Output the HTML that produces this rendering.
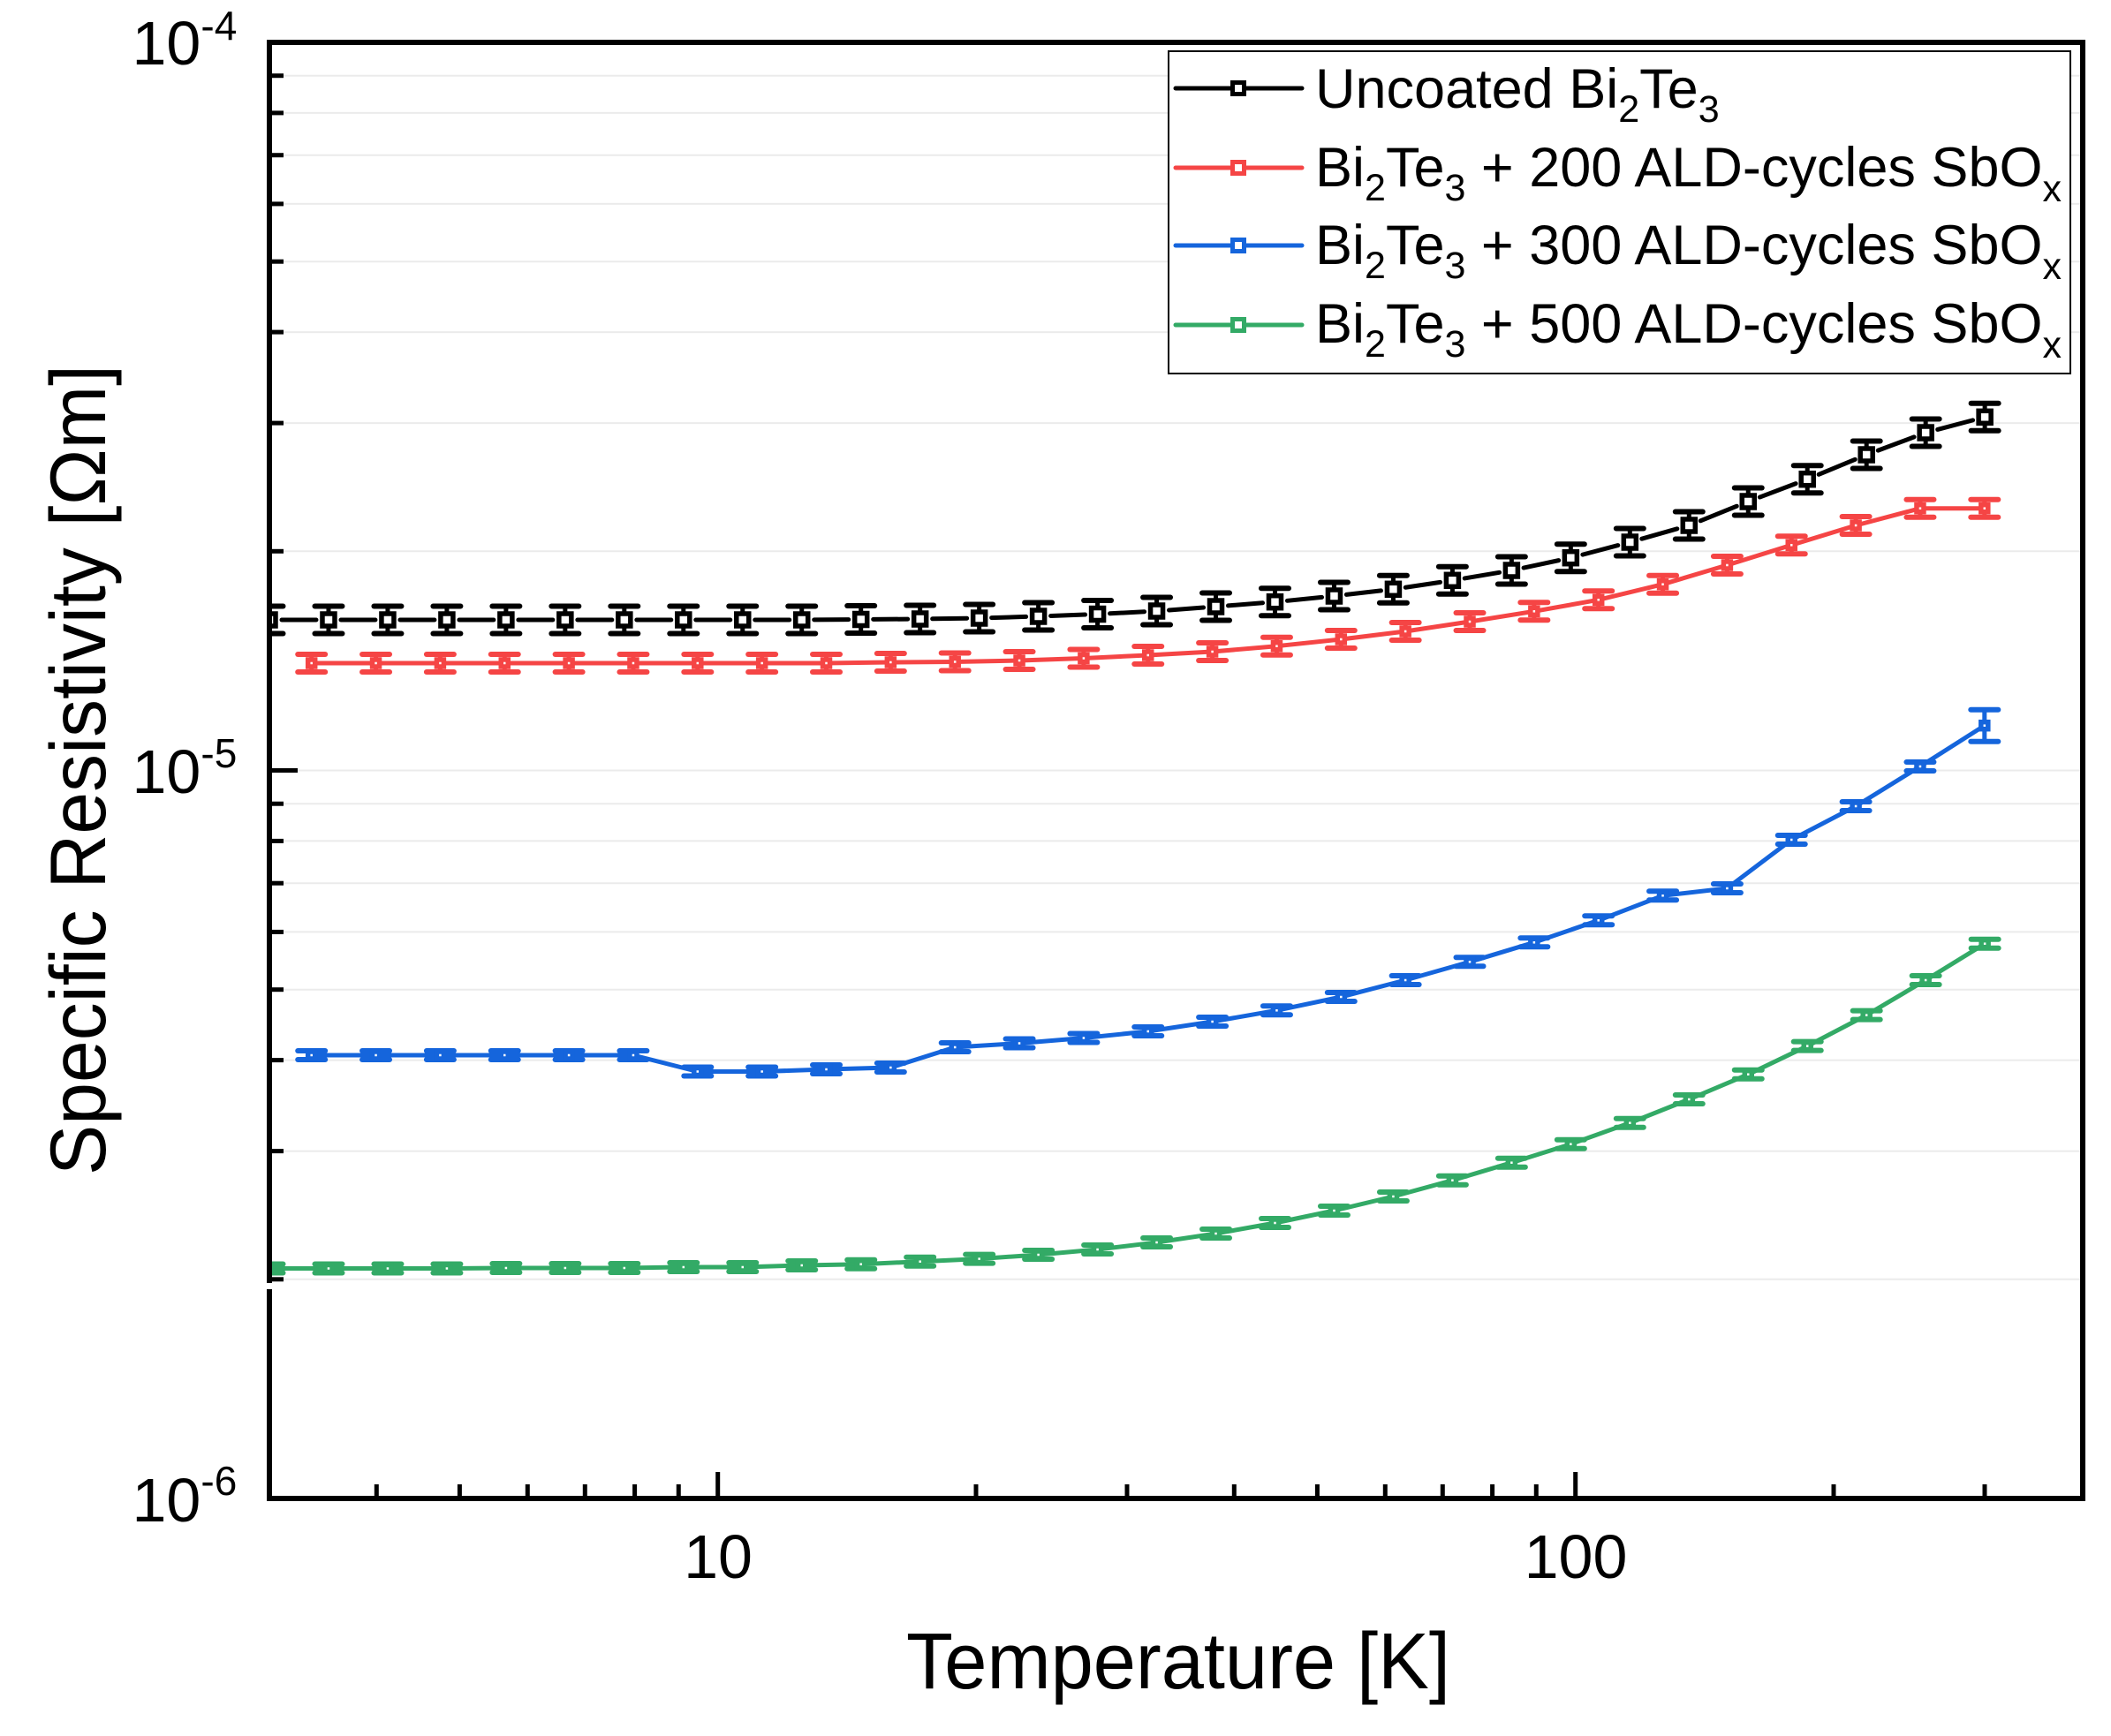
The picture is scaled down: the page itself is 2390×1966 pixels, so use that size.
<!DOCTYPE html>
<html><head><meta charset="utf-8">
<style>
html,body{margin:0;padding:0;background:#fff;}
svg{display:block;}
text{font-family:"Liberation Sans",Arial,sans-serif;fill:#000;}
</style></head>
<body>
<svg id="c" width="2390" height="1966" viewBox="0 0 2390 1966" xmlns="http://www.w3.org/2000/svg">
<defs><clipPath id="pc"><rect x="308" y="51" width="2047" height="1643"/></clipPath></defs>
<rect x="0" y="0" width="2390" height="1966" fill="#fff"/>
<g id="grid"></g>
<g id="data" clip-path="url(#pc)"></g>
<g id="axes"></g>
<rect x="305" y="48" width="2053" height="1649" fill="none" stroke="#000" stroke-width="6"/>
<rect x="300" y="1453" width="12" height="7" fill="#fff"/>

<!-- y tick labels -->
<text x="149.5" y="73" font-size="70">10<tspan font-size="46" dy="-28">-4</tspan></text>
<text x="149.5" y="898" font-size="70">10<tspan font-size="46" dy="-29">-5</tspan></text>
<text x="149.5" y="1723" font-size="70">10<tspan font-size="46" dy="-30">-6</tspan></text>

<!-- x tick labels -->
<text x="813" y="1787" font-size="70" text-anchor="middle">10</text>
<text x="1784" y="1787" font-size="70" text-anchor="middle">100</text>

<!-- axis titles -->
<text x="1334" y="1912" font-size="90" text-anchor="middle" textLength="616" lengthAdjust="spacingAndGlyphs">Temperature [K]</text>
<text transform="translate(119,872) rotate(-90)" font-size="89" text-anchor="middle" textLength="918" lengthAdjust="spacingAndGlyphs">Specific Resistivity [Ωm]</text>

<!-- legend -->
<rect x="1323" y="58" width="1021" height="365" fill="#fff" stroke="#000" stroke-width="2"/>
<g id="leg"></g>
<text x="1489" y="122" font-size="63">Uncoated Bi<tspan font-size="43" dy="16">2</tspan><tspan dy="-16">Te</tspan><tspan font-size="43" dy="16">3</tspan></text>
<text x="1489" y="211" font-size="63">Bi<tspan font-size="43" dy="16">2</tspan><tspan dy="-16">Te</tspan><tspan font-size="43" dy="16">3</tspan><tspan dy="-16"> + 200 ALD-cycles SbO</tspan><tspan font-size="43" dy="17">x</tspan></text>
<text x="1489" y="299" font-size="63">Bi<tspan font-size="43" dy="16">2</tspan><tspan dy="-16">Te</tspan><tspan font-size="43" dy="16">3</tspan><tspan dy="-16"> + 300 ALD-cycles SbO</tspan><tspan font-size="43" dy="17">x</tspan></text>
<text x="1489" y="388" font-size="63">Bi<tspan font-size="43" dy="16">2</tspan><tspan dy="-16">Te</tspan><tspan font-size="43" dy="16">3</tspan><tspan dy="-16"> + 500 ALD-cycles SbO</tspan><tspan font-size="43" dy="17">x</tspan></text>
</svg>
<script>
(function(){
const NS="http://www.w3.org/2000/svg";
function el(tag,a,p){const e=document.createElementNS(NS,tag);for(const k in a)e.setAttribute(k,a[k]);p.appendChild(e);return e;}
const grid=document.getElementById('grid'),axes=document.getElementById('axes'),data=document.getElementById('data'),leg=document.getElementById('leg');
const Y1=1697,DY=824.5,DX=971,X10=812.7;
for(let n=0;n<2;n++){for(let m=1;m<=9;m++){if(n==0&&m==1)continue;const y=Y1-(n+Math.log10(m))*DY;
 el('line',{x1:308,x2:2355,y1:y,y2:y,stroke:'#ebebeb','stroke-width':2},grid);
 el('line',{x1:305,x2:(m==1?337:321),y1:y,y2:y,stroke:'#000','stroke-width':5},axes);}}
[4,5,6,7,8,9,10,20,30,40,50,60,70,80,90,100,200,300].forEach(t=>{const x=X10+(Math.log10(t)-1)*DX;const mj=(t==10||t==100);
 el('line',{x1:x,x2:x,y1:1697,y2:(mj?1667:1681),stroke:'#000','stroke-width':5},axes);});
const bx=i=>305+i*66.97, rx=j=>352.7+j*72.85;
const S=[
 {c:'#000000',x:bx,s:14,trim:14,e:()=>15.5,
  y:[702,702,702,702,702,702,702,702,702,702,701.5,701,700,698,695.5,692,687,681.7,675,667.3,657.3,646,631.7,614,595,568,542.7,515,490,472.3]},
 {c:'#f54545',x:rx,s:8,trim:0,e:()=>10,
  y:[751,751,751,751,751,751,751,751,751,750,749.5,748,745.5,742,738,731.7,724,715,704,692.3,679.3,661.7,640,617.3,595,575.7,575.7]},
 {c:'#1565dc',x:rx,s:8,trim:0,e:(j)=>j==26?18:5,
  y:[1195,1195,1195,1195,1195,1195,1213.5,1213.5,1211,1209,1186,1181.5,1175.5,1168,1157,1144.3,1129,1110,1089.3,1067.3,1042.3,1014.3,1006,951,913,868,821.7]},
 {c:'#33aa66',x:bx,s:8,trim:0,e:()=>5,
  y:[1436.5,1436.5,1436.5,1436.5,1436,1436,1436,1435,1435,1433,1431.7,1428.7,1425.6,1421,1415,1407,1397,1385,1371,1355,1336.7,1316.7,1295.7,1271.7,1245,1216.7,1184.6,1149.6,1110,1068.7]}
];
S.forEach(s=>{
 const g=el('g',{},data);
 for(let i=0;i<s.y.length-1;i++){let x1=s.x(i),y1=s.y[i],x2=s.x(i+1),y2=s.y[i+1];
  if(s.trim){const dx=x2-x1,dy=y2-y1,L=Math.hypot(dx,dy),u=dx/L,v=dy/L;x1+=u*s.trim;y1+=v*s.trim;x2-=u*s.trim;y2-=v*s.trim;}
  el('line',{x1:x1,y1:y1,x2:x2,y2:y2,stroke:s.c,'stroke-width':5,'stroke-linecap':'round'},g);}
 s.y.forEach((y,i)=>{const x=s.x(i),e=s.e(i);
  el('line',{x1:x,x2:x,y1:y-e,y2:y+e,stroke:s.c,'stroke-width':5},g);
  el('line',{x1:x-15.5,x2:x+15.5,y1:y-e,y2:y-e,stroke:s.c,'stroke-width':6,'stroke-linecap':'round'},g);
  el('line',{x1:x-15.5,x2:x+15.5,y1:y+e,y2:y+e,stroke:s.c,'stroke-width':6,'stroke-linecap':'round'},g);
  el('rect',{x:x-s.s/2,y:y-s.s/2,width:s.s,height:s.s,fill:'#fff',stroke:s.c,'stroke-width':5.5},g);});
});
[100,190,278,368].forEach((y,k)=>{const c=S[k].c;
 el('line',{x1:1331,x2:1474,y1:y,y2:y,stroke:c,'stroke-width':5,'stroke-linecap':'round'},leg);
 el('rect',{x:1402-6.5,y:y-6.5,width:13,height:13,fill:'#fff',stroke:c,'stroke-width':5},leg);});
})();
</script>
</body></html>
